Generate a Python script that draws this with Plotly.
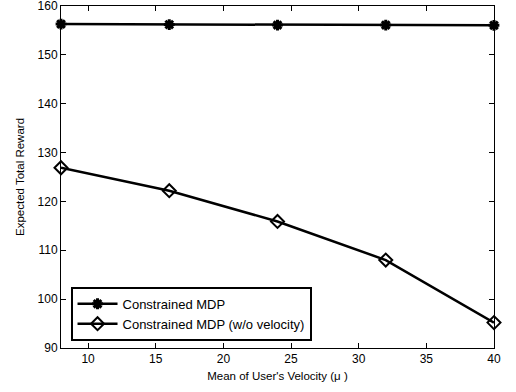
import plotly.graph_objects as go

velocity = [8, 16, 24, 32, 40]
cmdp = [156.3, 156.2, 156.1, 156.1, 156.05]
cmdp_wo_vel = [126.9, 122.2, 115.9, 108.0, 95.2]

x_ticks = [10, 15, 20, 25, 30, 35, 40]
y_ticks = [90, 100, 110, 120, 130, 140, 150, 160]

font = "Liberation Sans, Arial, Helvetica, sans-serif"

fig = go.Figure()
fig.add_trace(go.Scatter(
    x=velocity, y=cmdp, mode="lines+markers", name="Constrained MDP",
    line=dict(color="black", width=2.5), cliponaxis=False,
    marker=dict(symbol="asterisk-open", size=9, color="black",
                line=dict(color="black", width=3)),
))
fig.add_trace(go.Scatter(
    x=velocity, y=cmdp_wo_vel, mode="lines+markers",
    name="Constrained MDP (w/o velocity)",
    line=dict(color="black", width=2.5), cliponaxis=False,
    marker=dict(symbol="diamond-open", size=10, color="black",
                line=dict(color="black", width=2)),
))

axis_common = dict(
    showline=True, linecolor="black", linewidth=1, mirror="ticks",
    ticks="inside", ticklen=5, tickcolor="black", tickwidth=1,
    showgrid=False, zeroline=False, ticklabeloverflow="allow",
    automargin=False,
    tickfont=dict(family=font, size=12, color="black"),
)

fig.update_layout(
    width=516, height=392,
    margin=dict(l=61, r=22, t=6, b=44),
    paper_bgcolor="white", plot_bgcolor="white",
    font=dict(family=font, size=12, color="black"),
    xaxis=dict(range=[7.999, 40.001], tickvals=x_ticks,
               title=dict(text="Mean of User's Velocity (μ )",
                          font=dict(family=font, size=11.5), standoff=6),
               **axis_common),
    yaxis=dict(range=[89.999, 160.001], tickvals=y_ticks,
               title=dict(text="Expected Total Reward",
                          font=dict(family=font, size=11.5), standoff=10),
               **axis_common),
    legend=dict(x=0.022, y=0.021, xanchor="left", yanchor="bottom",
                bordercolor="black", borderwidth=2, bgcolor="white",
                font=dict(family=font, size=13, color="black"),
                tracegroupgap=0, itemwidth=40),
    showlegend=True,
)

fig.write_html("out.html")
